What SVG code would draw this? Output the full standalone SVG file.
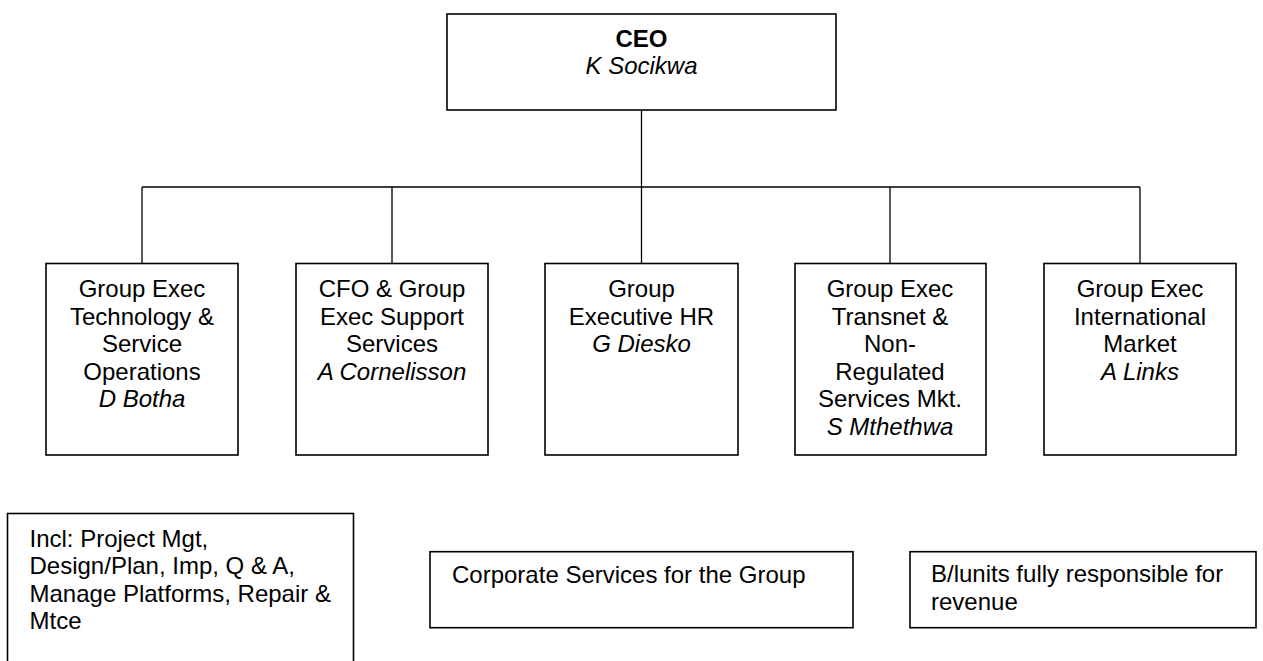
<svg xmlns="http://www.w3.org/2000/svg" width="1263" height="661" viewBox="0 0 1263 661">
<style>
.box{fill:#fff;stroke:#000;stroke-width:1.6}
.con{fill:none;stroke:#000;stroke-width:1.3}
text{font-family:"Liberation Sans",Arial,sans-serif;font-size:24px;fill:#000}
.c{text-anchor:middle}
.b{font-weight:bold}
.i{font-style:italic}
</style>
<rect width="1263" height="661" fill="#fff"/>
<g id="connectors">
<path class="con" d="M641.5 110 V187 M142 187 H1140 M142 187 V263.5 M392 187 V263.5 M641.5 187 V263.5 M890 187 V263.5 M1140 187 V263.5"/>
</g>
<g id="ceo">
<rect class="box" x="447" y="14" width="389" height="96"/>
<text class="c b" x="641.5" y="46.7">CEO</text>
<text class="c i" x="641.5" y="74">K Socikwa</text>
</g>
<g id="tech">
<rect class="box" x="46" y="263.5" width="192" height="191.5"/>
<text class="c" x="142" y="297">Group Exec</text>
<text class="c" x="142" y="324.5">Technology &amp;</text>
<text class="c" x="142" y="352">Service</text>
<text class="c" x="142" y="379.5">Operations</text>
<text class="c i" x="142" y="407">D Botha</text>
</g>
<g id="cfo">
<rect class="box" x="296" y="263.5" width="192" height="191.5"/>
<text class="c" x="392" y="297">CFO &amp; Group</text>
<text class="c" x="392" y="324.5">Exec Support</text>
<text class="c" x="392" y="352">Services</text>
<text class="c i" x="392" y="379.5">A Cornelisson</text>
</g>
<g id="hr">
<rect class="box" x="545" y="263.5" width="193" height="191.5"/>
<text class="c" x="641.5" y="297">Group</text>
<text class="c" x="641.5" y="324.5">Executive HR</text>
<text class="c i" x="641.5" y="352">G Diesko</text>
</g>
<g id="transnet">
<rect class="box" x="795" y="263.5" width="191" height="191.5"/>
<text class="c" x="890" y="297">Group Exec</text>
<text class="c" x="890" y="324.5">Transnet &amp;</text>
<text class="c" x="890" y="352">Non-</text>
<text class="c" x="890" y="379.5">Regulated</text>
<text class="c" x="890" y="407">Services Mkt.</text>
<text class="c i" x="890" y="434.5">S Mthethwa</text>
</g>
<g id="international">
<rect class="box" x="1044" y="263.5" width="192" height="191.5"/>
<text class="c" x="1140" y="297">Group Exec</text>
<text class="c" x="1140" y="324.5">International</text>
<text class="c" x="1140" y="352">Market</text>
<text class="c i" x="1140" y="379.5">A Links</text>
</g>
<g id="note-tech">
<rect class="box" x="7.5" y="513.5" width="346" height="160"/>
<text x="29.5" y="546.7">Incl: Project Mgt,</text>
<text x="29.5" y="574">Design/Plan, Imp, Q &amp; A,</text>
<text x="29.5" y="601.5">Manage Platforms, Repair &amp;</text>
<text x="29.5" y="628.5">Mtce</text>
</g>
<g id="note-corporate">
<rect class="box" x="430" y="551.7" width="423" height="76"/>
<text x="452" y="583.3">Corporate Services for the Group</text>
</g>
<g id="note-revenue">
<rect class="box" x="910" y="551.7" width="346" height="76"/>
<text x="931" y="581.7">B/lunits fully responsible for</text>
<text x="931" y="609.5">revenue</text>
</g>
</svg>
